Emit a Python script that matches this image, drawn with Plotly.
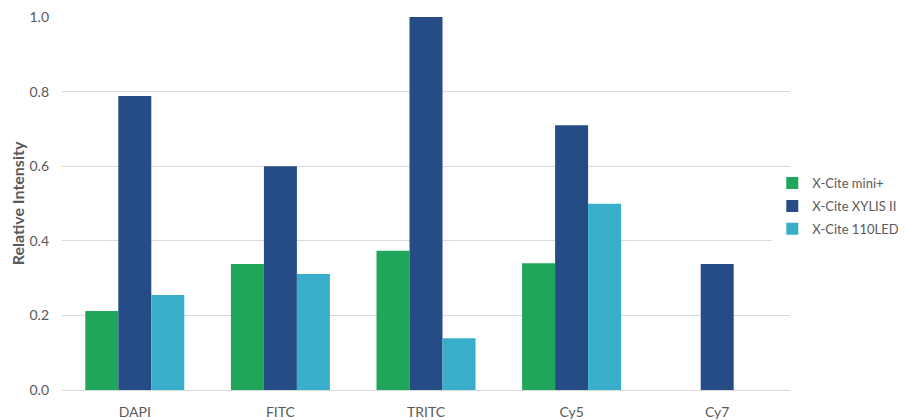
import plotly.graph_objects as go

categories = ["DAPI", "FITC", "TRITC", "Cy5", "Cy7"]
series_names = ["X-Cite mini+", "X-Cite XYLIS II", "X-Cite 110LED"]
mini_plus = [0.212, 0.338, 0.373, 0.340, None]
xylis_ii = [0.788, 0.600, 1.0, 0.710, 0.338]
led_110 = [0.255, 0.311, 0.139, 0.499, None]
tick_vals = [0.0, 0.2, 0.4, 0.6, 0.8, 1.0]
tick_text = ["0.0", "0.2", "0.4", "0.6", "0.8", "1.0"]

colors = ["#1FA65A", "#264C85", "#38AECB"]
values = [mini_plus, xylis_ii, led_110]

fig = go.Figure()
for name, vals, c in zip(series_names, values, colors):
    fig.add_trace(go.Bar(x=categories, y=vals, name=name, legendgroup=name,
                         marker=dict(color=c, line=dict(width=0))))

font_family = "Lato, 'Open Sans', sans-serif"
fig.update_layout(
    width=898, height=412,
    margin=dict(l=54, r=116, t=9, b=30, autoexpand=False),
    barmode="group", bargap=0.32, bargroupgap=0,
    plot_bgcolor="white", paper_bgcolor="white",
    font=dict(family=font_family, size=13, color="#595959"),
    legend=dict(x=1.157, y=0.493, xanchor="right", yanchor="middle",
                font=dict(size=13, color="#595959"), itemwidth=30,
                tracegroupgap=3),
    showlegend=True,
)
fig.update_xaxes(showgrid=False, showline=True, linecolor="#d9d9d9", linewidth=1,
                 ticks="", automargin=False, ticklabelstandoff=9,
                 tickfont=dict(size=14, color="#595959"))
fig.update_yaxes(range=[0, 1.0], tickvals=tick_vals, ticktext=tick_text,
                 showgrid=True, gridcolor="#d9d9d9", gridwidth=1,
                 zeroline=False, showline=False, ticks="", automargin=False,
                 ticklabelstandoff=12, ticklabeloverflow="allow",
                 tickfont=dict(size=14, color="#595959"),
                 title=dict(text="<b>Relative Intensity</b>",
                            font=dict(size=16, color="#595959"), standoff=0))
fig.write_html("out.html")
